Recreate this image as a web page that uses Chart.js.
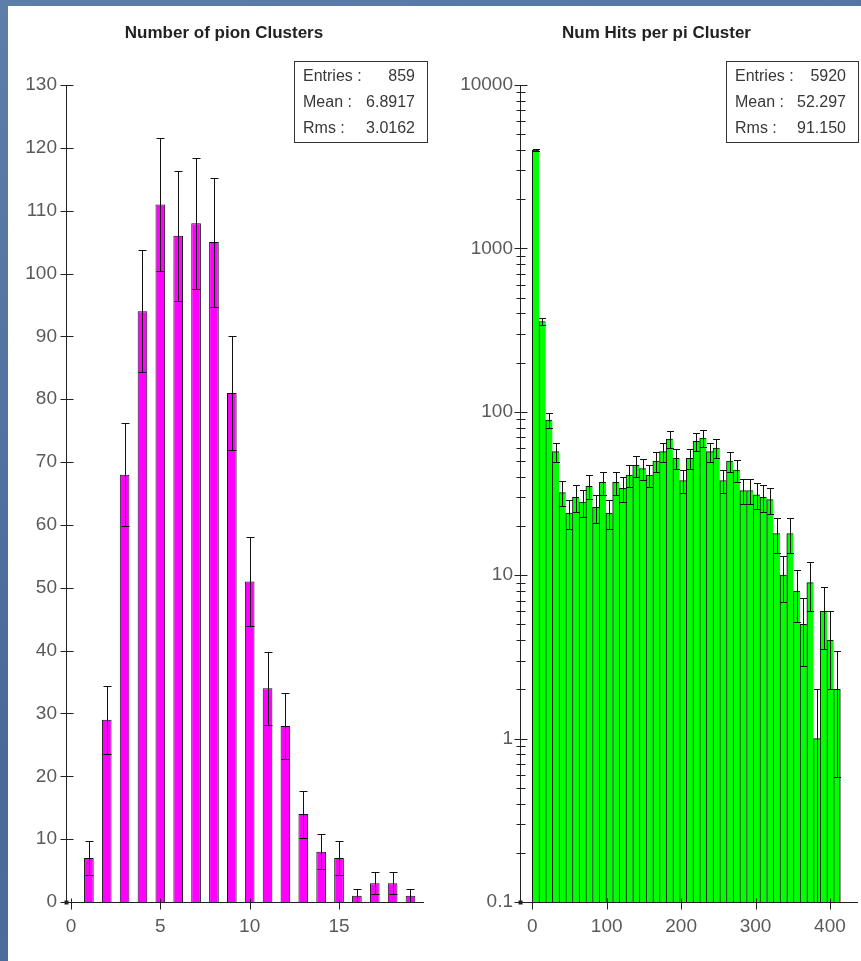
<!DOCTYPE html>
<html>
<head>
<meta charset="utf-8">
<script src="https://cdn.jsdelivr.net/npm/chart.js@4.4.0/dist/chart.umd.min.js"></script>
<style>
  html, body { margin: 0; padding: 0; }
  body { width: 861px; height: 961px; overflow: hidden; position: relative;
         background: linear-gradient(160deg, #5b7fa9 0%, #48699a 60%, #4f73a0 100%); }
  #panel { position: absolute; left: 8px; top: 6px; right: 0; bottom: 0; background: #fff; }
  canvas { position: absolute; top: 0; }
  #pionChart { left: 0; }
  #hitsChart { left: 440px; }
</style>
</head>
<body>
<div id="panel"></div>
<canvas id="pionChart" width="440" height="961"></canvas>
<canvas id="hitsChart" width="421" height="961"></canvas>
<script>
    // left histogram: number of pion clusters per event
    var pionBins = [1, 2, 3, 4, 5, 6, 7, 8, 9, 10, 11, 12, 13, 14, 15, 16, 17, 18, 19];
    var pionCounts = [7, 29, 68, 94, 111, 106, 108, 105, 81, 51, 34, 28, 14, 8, 7, 1, 3, 3, 1];
    var pionXTicks = [0, 5, 10, 15];
    var pionYTicks = [0, 10, 20, 30, 40, 50, 60, 70, 80, 90, 100, 110, 120, 130];
    var pionStats = ['859', '6.8917', '3.0162'];

    // right histogram: hits per pion cluster (bin centres, width 9)
    var hitsBins = [4.5, 13.5, 22.5, 31.5, 40.5, 49.5, 58.5, 67.5, 76.5, 85.5,
                    94.5, 103.5, 112.5, 121.5, 130.5, 139.5, 148.5, 157.5, 166.5, 175.5,
                    184.5, 193.5, 202.5, 211.5, 220.5, 229.5, 238.5, 247.5, 256.5, 265.5,
                    274.5, 283.5, 292.5, 301.5, 310.5, 319.5, 328.5, 337.5, 346.5, 355.5,
                    364.5, 373.5, 382.5, 391.5, 400.5, 409.5];
    var hitsCounts = [4000, 357, 89, 57, 32, 24, 30, 28, 35, 26,
                      37, 24, 37, 34, 41, 47, 45, 41, 50, 57,
                      68, 52, 38, 52, 66, 69, 57, 60, 38, 50,
                      44, 33, 33, 31, 30, 29, 18, 10, 18, 8,
                      5, 9, 1, 6, 4, 2];
    var hitsXTicks = [0, 100, 200, 300, 400];
    var hitsYTicks = [0.1, 1, 10, 100, 1000, 10000];
    var hitsMinorSteps = [2, 3, 4, 5, 6, 7, 8, 9];
    var hitsStats = ['5920', '52.297', '91.150'];

    var statLabels = ['Entries :', 'Mean :', 'Rms :'];

    var fontFamily = "'Liberation Sans', Arial, sans-serif";
    Chart.defaults.font.family = fontFamily;

    function crisp(v) { return Math.round(v) + 0.5; }

    var errorBars = {
        id: 'errorBars',
        afterDatasetsDraw: function(chart, args, opts) {
            var ctx = chart.ctx, ys = chart.scales.y;
            var meta = chart.getDatasetMeta(0);
            var pts = chart.data.datasets[0].data;
            var half = opts.capWidth / 2;
            ctx.save();
            ctx.strokeStyle = '#111';
            ctx.lineWidth = 1;
            ctx.beginPath();
            meta.data.forEach(function(bar, i) {
                var v = pts[i].y, err = Math.sqrt(v);
                var x = crisp(bar.x);
                var hi = crisp(ys.getPixelForValue(v + err));
                var low = v - err;
                var lo = low > ys.min ? crisp(ys.getPixelForValue(low)) : ys.bottom;
                ctx.moveTo(x, hi); ctx.lineTo(x, lo);
                ctx.moveTo(x - half, hi); ctx.lineTo(x + half, hi);
                if (low > ys.min) { ctx.moveTo(x - half, lo); ctx.lineTo(x + half, lo); }
            });
            ctx.stroke();
            ctx.restore();
        }
    };

    var axisTicks = {
        id: 'axisTicks',
        afterDraw: function(chart, args, opts) {
            var ctx = chart.ctx, xs = chart.scales.x, ys = chart.scales.y;
            var a = chart.chartArea;
            var ax = crisp(a.left), ay = crisp(a.bottom);
            ctx.save();
            ctx.strokeStyle = '#222';
            ctx.lineWidth = 1;
            ctx.beginPath();
            opts.yMajor.forEach(function(v) {
                var y = crisp(ys.getPixelForValue(v));
                ctx.moveTo(ax - 6, y); ctx.lineTo(ax + 7, y);
            });
            (opts.yMinor || []).forEach(function(v) {
                var y = crisp(ys.getPixelForValue(v));
                ctx.moveTo(ax - 4, y); ctx.lineTo(ax + 5, y);
            });
            opts.xMajor.forEach(function(v) {
                var x = crisp(xs.getPixelForValue(v));
                ctx.moveTo(x, ay - 4); ctx.lineTo(x, ay + 7);
            });
            ctx.stroke();
            ctx.fillStyle = '#222';
            ctx.fillRect(ax - 2, ay - 2, 4, 4);
            ctx.restore();
        }
    };

    var statsBox = {
        id: 'statsBox',
        afterDraw: function(chart, args, opts) {
            var ctx = chart.ctx;
            ctx.save();
            ctx.fillStyle = '#fff';
            ctx.fillRect(opts.x, opts.y, opts.w, opts.h);
            ctx.strokeStyle = '#333';
            ctx.lineWidth = 1;
            ctx.strokeRect(opts.x + 0.5, opts.y + 0.5, opts.w, opts.h);
            ctx.font = '16px ' + fontFamily;
            ctx.fillStyle = '#383838';
            ctx.textBaseline = 'middle';
            statLabels.forEach(function(lbl, i) {
                var y = opts.y + 16 + i * 25.7;
                ctx.textAlign = 'left';
                ctx.fillText(lbl, opts.x + 9, y);
                ctx.textAlign = 'right';
                ctx.fillText(opts.values[i], opts.x + opts.w - 12, y);
            });
            ctx.restore();
        }
    };

    var tickFont = { size: 19, family: fontFamily };
    var tickColor = '#5a5a5a';

    var pionChart = new Chart(document.getElementById('pionChart'), {
        type: 'bar',
        data: {
            datasets: [{
                data: pionBins.map(function(b, i) { return { x: b, y: pionCounts[i] }; }),
                backgroundColor: '#ff00ff',
                borderColor: '#111',
                borderWidth: 1,
                barPercentage: 0.54,
                categoryPercentage: 1
            }]
        },
        options: {
            responsive: false,
            animation: false,
            layout: { padding: { left: 25, right: 17, top: 0, bottom: 0 }, autoPadding: false },
            plugins: {
                legend: { display: false },
                tooltip: { enabled: false },
                title: {
                    display: true,
                    text: 'Number of pion Clusters',
                    color: '#222',
                    font: { size: 17, weight: 'bold' },
                    padding: { top: 23, bottom: 41.6 }
                },
                errorBars: { capWidth: 8 },
                axisTicks: { yMajor: pionYTicks, xMajor: pionXTicks },
                statsBox: { x: 294, y: 61, w: 133, h: 81, values: pionStats }
            },
            scales: {
                x: {
                    type: 'linear',
                    offset: false,
                    min: -0.28,
                    max: 19.7,
                    afterBuildTicks: function(s) { s.ticks = pionXTicks.map(function(v) { return { value: v }; }); },
                    afterFit: function(s) { s.height = 59; },
                    grid: { display: false, drawTicks: false },
                    border: { display: true, color: '#222', width: 1 },
                    ticks: { font: tickFont, color: tickColor, padding: 13, maxRotation: 0 }
                },
                y: {
                    min: 0,
                    max: 130,
                    afterBuildTicks: function(s) { s.ticks = pionYTicks.map(function(v) { return { value: v }; }); },
                    afterFit: function(s) { s.width = 41; },
                    grid: { display: false, drawTicks: false },
                    border: { display: true, color: '#222', width: 1 },
                    ticks: { font: tickFont, color: tickColor, padding: 9 }
                }
            }
        },
        plugins: [axisTicks, errorBars, statsBox]
    });

    var hitsMinor = [];
    hitsYTicks.slice(0, -1).forEach(function(d) {
        hitsMinorSteps.forEach(function(m) { hitsMinor.push(d * m); });
    });

    var lastHit = hitsCounts.length - 1;
    var hitsChart = new Chart(document.getElementById('hitsChart'), {
        type: 'bar',
        data: {
            datasets: [{
                data: hitsBins.map(function(b, i) { return { x: b, y: hitsCounts[i] }; }),
                backgroundColor: '#00ff00',
                borderColor: '#111',
                borderWidth: function(c) {
                    return { left: 1, top: 1, bottom: 0, right: c.dataIndex === lastHit ? 1 : 0 };
                },
                barPercentage: 1,
                categoryPercentage: 1
            }]
        },
        options: {
            responsive: false,
            animation: false,
            layout: { padding: { left: 16, right: 4, top: 0, bottom: 0 }, autoPadding: false },
            plugins: {
                legend: { display: false },
                tooltip: { enabled: false },
                title: {
                    display: true,
                    text: 'Num Hits per pi Cluster',
                    color: '#222',
                    font: { size: 17, weight: 'bold' },
                    padding: { top: 23, bottom: 41.6 }
                },
                errorBars: { capWidth: 7 },
                axisTicks: { yMajor: hitsYTicks, yMinor: hitsMinor, xMajor: hitsXTicks },
                statsBox: { x: 286, y: 61, w: 132, h: 81, values: hitsStats }
            },
            scales: {
                x: {
                    type: 'linear',
                    offset: false,
                    min: -16.5,
                    max: 436.4,
                    afterBuildTicks: function(s) { s.ticks = hitsXTicks.map(function(v) { return { value: v }; }); },
                    afterFit: function(s) { s.height = 59; },
                    grid: { display: false, drawTicks: false },
                    border: { display: true, color: '#222', width: 1 },
                    ticks: { font: tickFont, color: tickColor, padding: 13, maxRotation: 0 }
                },
                y: {
                    type: 'logarithmic',
                    min: 0.1,
                    max: 10000,
                    afterBuildTicks: function(s) { s.ticks = hitsYTicks.map(function(v) { return { value: v }; }); },
                    afterFit: function(s) { s.width = 64; },
                    grid: { display: false, drawTicks: false },
                    border: { display: true, color: '#222', width: 1 },
                    ticks: {
                        font: tickFont, color: tickColor, padding: 7,
                        callback: function(value) { return String(value); }
                    }
                }
            }
        },
        plugins: [axisTicks, errorBars, statsBox]
    });
</script>
</body>
</html>
